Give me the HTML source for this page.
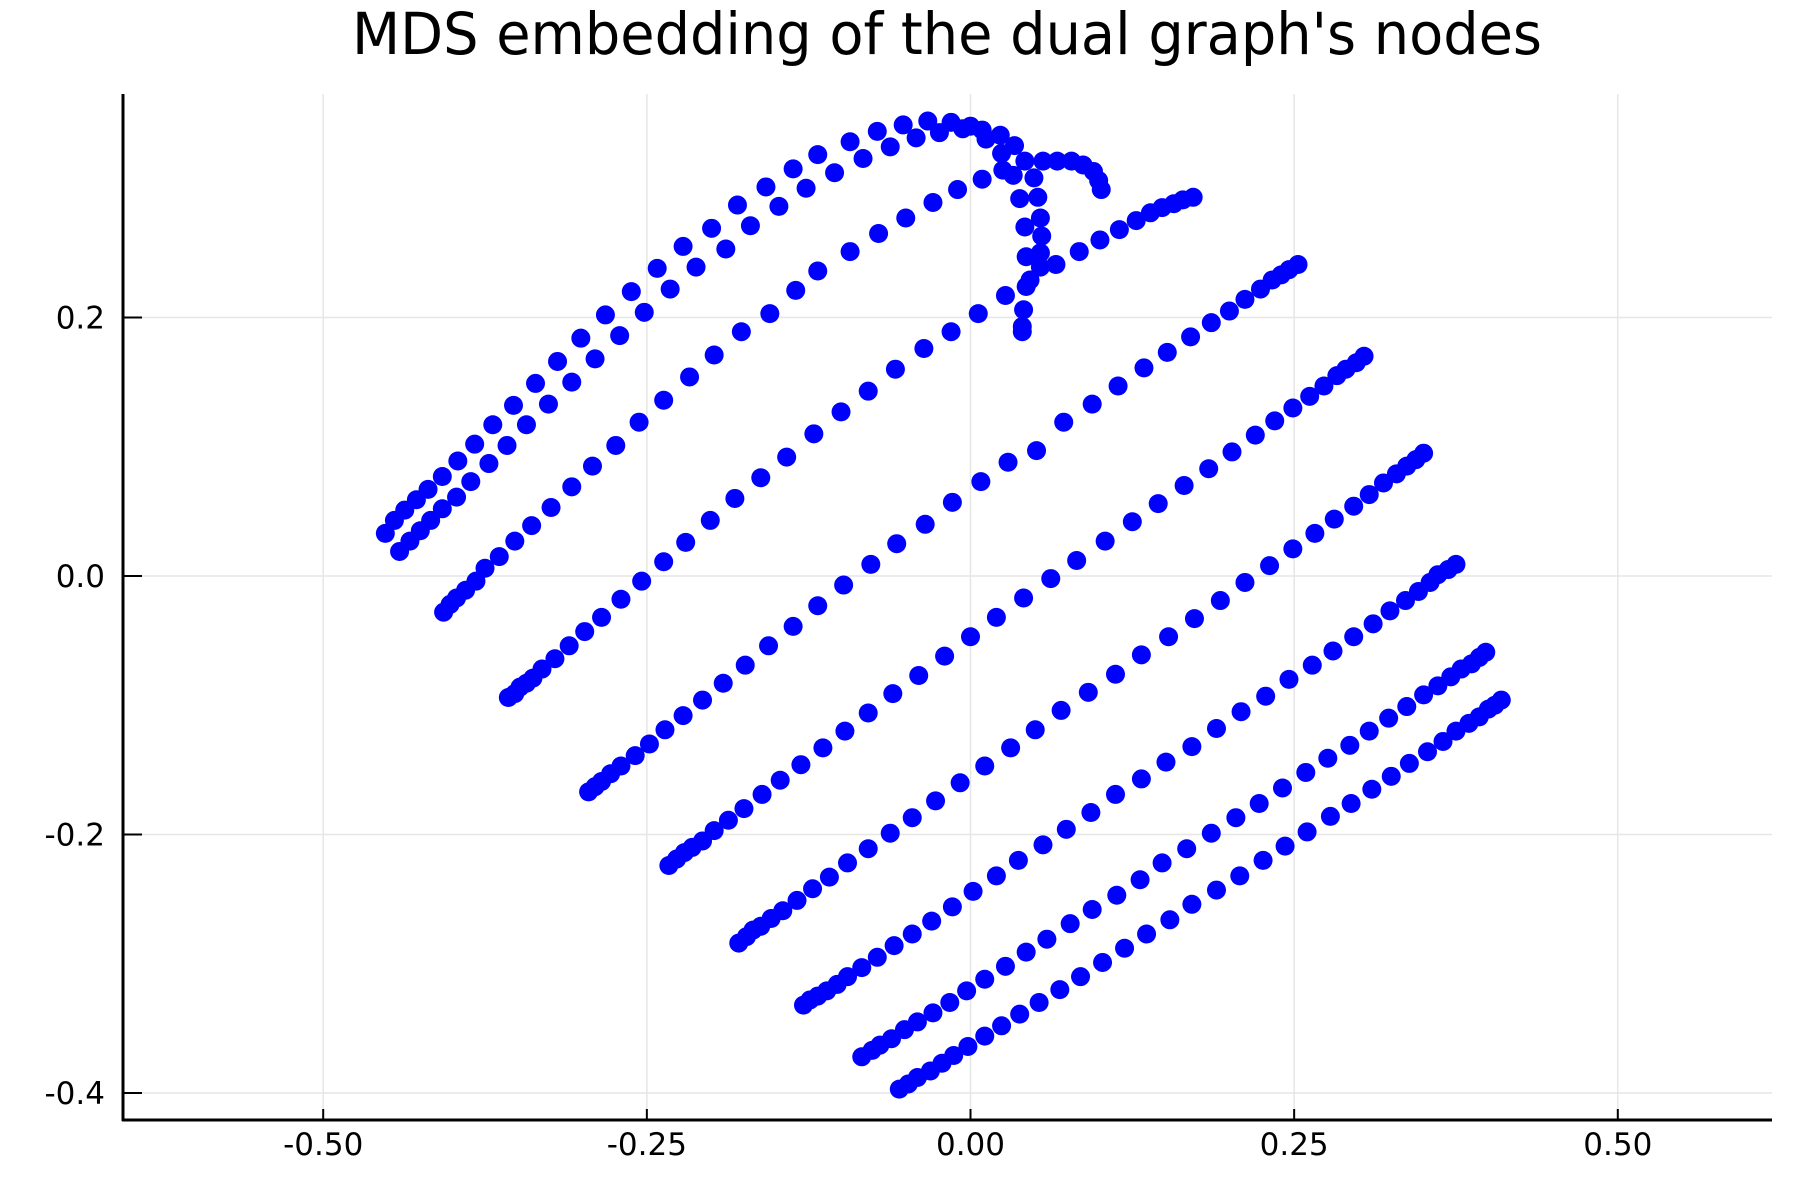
<!DOCTYPE html>
<html><head><meta charset="utf-8"><title>MDS embedding</title>
<style>
html,body{margin:0;padding:0;background:#fff;}
svg{display:block;font-family:"DejaVu Sans","Liberation Sans",sans-serif;}
</style></head>
<body>
<svg id="chart" width="1800" height="1200" viewBox="0 0 1800 1200" xmlns="http://www.w3.org/2000/svg">
<rect x="0" y="0" width="1800" height="1200" fill="#ffffff"/>
<text x="947" y="54" font-size="58" text-anchor="middle" textLength="1190" lengthAdjust="spacingAndGlyphs" fill="#000">MDS embedding of the dual graph's nodes</text>
<g id="grid"></g>
<g id="points"></g>
<g id="axes"></g>
</svg>
<script>
const xTicks = [-0.5, -0.25, 0, 0.25, 0.5];
const xTickLabels = ["-0.50", "-0.25", "0.00", "0.25", "0.50"];
const yTicks = [-0.4, -0.2, 0, 0.2];
const yTickLabels = ["-0.4", "-0.2", "0.0", "0.2"];

const strandAx = [-0.452,-0.445,-0.437,-0.428,-0.419,-0.408,-0.396,-0.383,-0.369,-0.353,-0.336,-0.319,-0.301,-0.282,-0.262,-0.242,-0.222,-0.200,-0.180,-0.158,-0.137,-0.118,-0.093,-0.072,-0.052,-0.033,-0.015,0.000,0.009,0.023,0.034,0.042,0.056,0.067,0.078,0.087,0.095,0.099,0.101];
const strandAy = [0.033,0.043,0.051,0.059,0.067,0.077,0.089,0.102,0.117,0.132,0.149,0.166,0.184,0.202,0.220,0.238,0.255,0.269,0.287,0.301,0.315,0.326,0.336,0.344,0.349,0.352,0.351,0.348,0.345,0.341,0.333,0.321,0.321,0.321,0.321,0.318,0.313,0.306,0.299];
const strandBx = [-0.441,-0.433,-0.425,-0.417,-0.408,-0.397,-0.386,-0.372,-0.358,-0.343,-0.326,-0.308,-0.290,-0.271,-0.252,-0.232,-0.212,-0.189,-0.170,-0.148,-0.127,-0.105,-0.083,-0.062,-0.042,-0.024,-0.006,0.012];
const strandBy = [0.019,0.027,0.035,0.043,0.052,0.061,0.073,0.087,0.101,0.117,0.133,0.150,0.168,0.186,0.204,0.222,0.239,0.253,0.271,0.286,0.300,0.312,0.323,0.332,0.339,0.343,0.346,0.338];
const junctionX = [0.024,0.025,0.033,0.049,0.038,0.052,0.054,0.042,0.055,0.043,0.054,0.054,0.046,0.043,0.041,0.040,0.040];
const junctionY = [0.327,0.314,0.310,0.308,0.292,0.293,0.277,0.270,0.263,0.247,0.250,0.239,0.229,0.224,0.206,0.193,0.189];
const strandCx = [-0.407,-0.402,-0.397,-0.390,-0.382,-0.375,-0.364,-0.352,-0.339,-0.324,-0.308,-0.292,-0.274,-0.256,-0.237,-0.217,-0.198,-0.177,-0.155,-0.135,-0.118,-0.093,-0.071,-0.050,-0.029,-0.010,0.009];
const strandCy = [-0.028,-0.022,-0.017,-0.011,-0.004,0.006,0.015,0.027,0.039,0.053,0.069,0.085,0.101,0.119,0.136,0.154,0.171,0.189,0.203,0.221,0.236,0.251,0.265,0.277,0.289,0.299,0.307];
const strandDx = [-0.357,-0.352,-0.348,-0.343,-0.338,-0.331,-0.321,-0.310,-0.298,-0.285,-0.270,-0.254,-0.237,-0.220,-0.201,-0.182,-0.162,-0.142,-0.121,-0.100,-0.079,-0.058,-0.036,-0.015,0.006,0.027,0.066,0.084,0.100,0.115,0.128,0.139,0.148,0.157,0.164,0.172];
const strandDy = [-0.094,-0.091,-0.086,-0.083,-0.079,-0.072,-0.064,-0.054,-0.043,-0.032,-0.018,-0.004,0.011,0.026,0.043,0.060,0.076,0.092,0.110,0.127,0.143,0.160,0.176,0.189,0.203,0.217,0.241,0.251,0.260,0.268,0.275,0.281,0.285,0.288,0.291,0.293];
const strandEx = [-0.295,-0.290,-0.285,-0.278,-0.270,-0.259,-0.248,-0.236,-0.222,-0.207,-0.191,-0.174,-0.156,-0.137,-0.118,-0.098,-0.077,-0.057,-0.035,-0.014,0.008,0.029,0.051,0.072,0.094,0.114,0.134,0.152,0.170,0.186,0.200,0.212,0.224,0.233,0.240,0.246,0.253];
const strandEy = [-0.167,-0.163,-0.159,-0.153,-0.147,-0.139,-0.130,-0.119,-0.108,-0.096,-0.083,-0.069,-0.054,-0.039,-0.023,-0.007,0.009,0.025,0.040,0.057,0.073,0.088,0.097,0.119,0.133,0.147,0.161,0.173,0.185,0.196,0.205,0.214,0.222,0.229,0.233,0.237,0.241];
const strandFx = [-0.233,-0.227,-0.221,-0.215,-0.207,-0.198,-0.187,-0.175,-0.161,-0.147,-0.131,-0.114,-0.097,-0.079,-0.060,-0.040,-0.020,0.000,0.020,0.041,0.062,0.082,0.104,0.125,0.145,0.165,0.184,0.202,0.220,0.235,0.249,0.262,0.273,0.283,0.290,0.298,0.304];
const strandFy = [-0.224,-0.219,-0.214,-0.210,-0.205,-0.197,-0.189,-0.180,-0.169,-0.158,-0.146,-0.133,-0.120,-0.106,-0.091,-0.077,-0.062,-0.047,-0.032,-0.017,-0.002,0.012,0.027,0.042,0.056,0.070,0.083,0.096,0.109,0.120,0.130,0.139,0.147,0.155,0.160,0.165,0.170];
const strandGx = [-0.179,-0.173,-0.168,-0.162,-0.154,-0.145,-0.134,-0.122,-0.109,-0.095,-0.079,-0.062,-0.045,-0.027,-0.008,0.011,0.031,0.050,0.070,0.091,0.112,0.132,0.153,0.173,0.193,0.212,0.231,0.249,0.266,0.281,0.296,0.308,0.319,0.329,0.337,0.344,0.350];
const strandGy = [-0.284,-0.279,-0.274,-0.271,-0.265,-0.259,-0.251,-0.242,-0.233,-0.222,-0.211,-0.199,-0.187,-0.174,-0.160,-0.147,-0.133,-0.119,-0.104,-0.090,-0.076,-0.061,-0.047,-0.033,-0.019,-0.005,0.008,0.021,0.033,0.044,0.054,0.063,0.072,0.079,0.085,0.090,0.095];
const strandHx = [-0.129,-0.124,-0.118,-0.111,-0.103,-0.095,-0.084,-0.072,-0.059,-0.045,-0.030,-0.014,0.002,0.020,0.037,0.056,0.074,0.093,0.112,0.132,0.151,0.171,0.190,0.209,0.228,0.246,0.264,0.280,0.296,0.311,0.324,0.336,0.346,0.355,0.361,0.369,0.375];
const strandHy = [-0.332,-0.328,-0.325,-0.321,-0.316,-0.310,-0.303,-0.295,-0.286,-0.277,-0.267,-0.256,-0.244,-0.232,-0.220,-0.208,-0.196,-0.183,-0.169,-0.157,-0.144,-0.132,-0.118,-0.105,-0.093,-0.080,-0.069,-0.058,-0.047,-0.037,-0.027,-0.019,-0.012,-0.005,0.001,0.005,0.009];
const strandIx = [-0.084,-0.076,-0.070,-0.061,-0.051,-0.041,-0.029,-0.016,-0.003,0.011,0.027,0.043,0.059,0.077,0.094,0.113,0.131,0.148,0.167,0.186,0.205,0.223,0.241,0.259,0.276,0.293,0.308,0.323,0.337,0.350,0.361,0.371,0.379,0.387,0.393,0.398];
const strandIy = [-0.372,-0.367,-0.363,-0.358,-0.351,-0.345,-0.338,-0.330,-0.321,-0.312,-0.302,-0.291,-0.281,-0.269,-0.258,-0.247,-0.235,-0.222,-0.211,-0.199,-0.187,-0.176,-0.164,-0.152,-0.141,-0.131,-0.120,-0.110,-0.101,-0.092,-0.085,-0.078,-0.072,-0.068,-0.063,-0.059];
const strandJx = [-0.055,-0.048,-0.041,-0.031,-0.022,-0.013,-0.002,0.011,0.024,0.038,0.053,0.069,0.085,0.102,0.119,0.136,0.154,0.171,0.190,0.208,0.226,0.243,0.260,0.278,0.294,0.310,0.325,0.339,0.353,0.365,0.375,0.385,0.393,0.400,0.405,0.410];
const strandJy = [-0.397,-0.393,-0.388,-0.383,-0.377,-0.371,-0.364,-0.356,-0.348,-0.339,-0.330,-0.320,-0.310,-0.299,-0.288,-0.277,-0.266,-0.254,-0.243,-0.232,-0.220,-0.209,-0.198,-0.186,-0.176,-0.165,-0.155,-0.145,-0.136,-0.128,-0.120,-0.114,-0.109,-0.103,-0.100,-0.096];

const NS = "http://www.w3.org/2000/svg";
const plotLeft = 123, plotRight = 1772, plotTop = 94, plotBottom = 1120;
function sx(v){ return 970.5 + v * 1294.6; }
function sy(v){ return 576 - v * 1292.5; }
function mk(tag, attrs){ const e = document.createElementNS(NS, tag); for (const k in attrs) e.setAttribute(k, attrs[k]); return e; }

const grid = document.getElementById('grid');
const axes = document.getElementById('axes');
const pts = document.getElementById('points');

xTicks.forEach((t, i) => {
  const g = mk('line', {x1: sx(t), x2: sx(t), y1: plotTop, y2: plotBottom, stroke: '#e6e6e6', 'stroke-width': 1.5});
  
  
  grid.appendChild(g);
  const tk = mk('line', {x1: sx(t), x2: sx(t), y1: plotBottom, y2: plotBottom - 11, stroke: '#000', 'stroke-width': 2});
  
  
  axes.appendChild(tk);
  const lb = mk('text', {x: sx(t), y: 1155, 'font-size': 31, 'text-anchor': 'middle', fill: '#000'});
  lb.textContent = xTickLabels[i];
  
  
  axes.appendChild(lb);
});
yTicks.forEach((t, i) => {
  const g = mk('line', {x1: plotLeft, x2: plotRight, y1: sy(t), y2: sy(t), stroke: '#e6e6e6', 'stroke-width': 1.5});
  
  
  grid.appendChild(g);
  const tk = mk('line', {x1: plotLeft, x2: plotLeft + 19, y1: sy(t), y2: sy(t), stroke: '#000', 'stroke-width': 2});
  
  
  axes.appendChild(tk);
  const lb = mk('text', {x: 105, y: sy(t) + 11, 'font-size': 31, 'text-anchor': 'end', fill: '#000'});
  lb.textContent = yTickLabels[i];
  
  
  axes.appendChild(lb);
});
const xAxis = mk('line', {x1: plotLeft - 1, x2: plotRight, y1: plotBottom, y2: plotBottom, stroke: '#000', 'stroke-width': 3});


axes.appendChild(xAxis);
const yAxis = mk('line', {x1: plotLeft, x2: plotLeft, y1: plotTop, y2: plotBottom + 1, stroke: '#000', 'stroke-width': 3});


axes.appendChild(yAxis);

const strands = [
  ['strand-a', strandAx, strandAy], ['strand-b', strandBx, strandBy], ['junction', junctionX, junctionY],
  ['strand-c', strandCx, strandCy], ['strand-d', strandDx, strandDy], ['strand-e', strandEx, strandEy],
  ['strand-f', strandFx, strandFy], ['strand-g', strandGx, strandGy], ['strand-h', strandHx, strandHy],
  ['strand-i', strandIx, strandIy], ['strand-j', strandJx, strandJy]
];
strands.forEach(([name, xs, ys]) => {
  const n = Math.min(xs.length, ys.length);
  for (let i = 0; i < n; i++) {
    const c = mk('circle', {cx: sx(xs[i]), cy: sy(ys[i]), r: 9.5, fill: '#0000ff'});
    
    
    pts.appendChild(c);
  }
});
</script>
</body></html>
